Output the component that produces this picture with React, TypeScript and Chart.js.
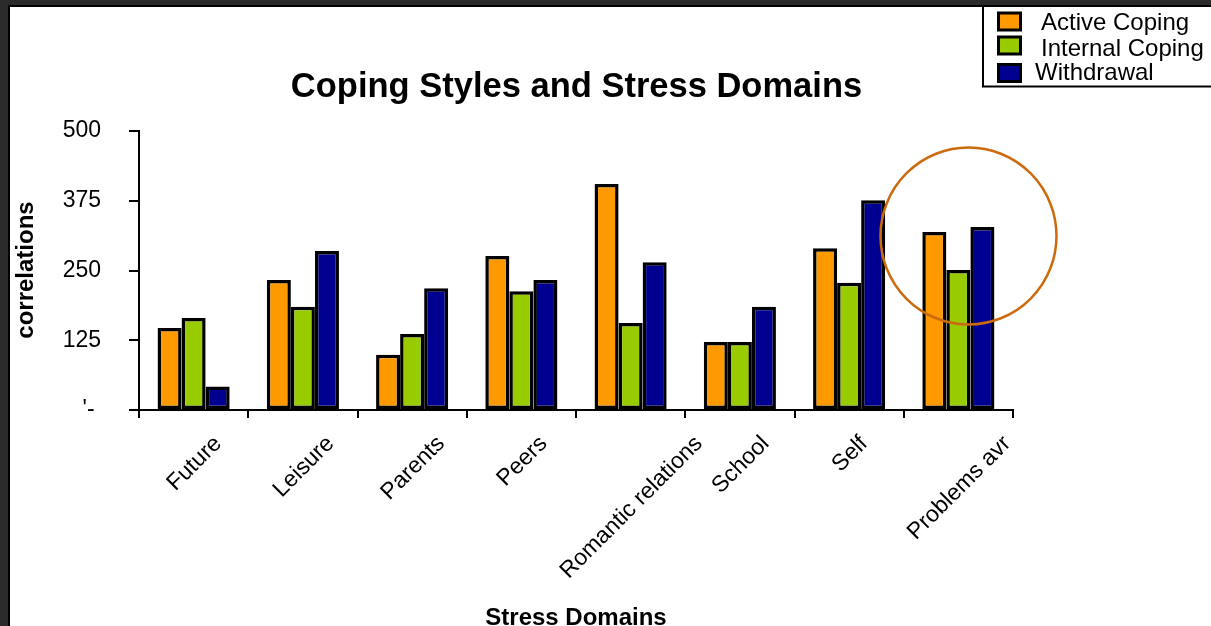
import React, { useEffect, useRef } from "react";
import { Chart, registerables } from "chart.js";

Chart.register(...registerables);

const categories = ["Future", "Leisure", "Parents", "Peers", "Romantic relations", "School", "Self", "Problems avr"];
const activeCoping = [147, 233, 99, 276, 405, 122, 290, 319];
const internalCoping = [165, 185, 136, 213, 156, 122, 228, 251];
const withdrawal = [42, 285, 218, 233, 265, 185, 376, 328];
const seriesNames = ["Active Coping", "Internal Coping", "Withdrawal"];
const seriesColors = ["#FF9900", "#99CC00", "#000090"];
const yTickValues = [0, 125, 250, 375, 500];
const yTickLabels = ["'- ", "125", "250", "375", "500"];
const chartTitle = "Coping Styles and Stress Domains";
const xAxisTitle = "Stress Domains";
const yAxisTitle = "correlations";

const W = 1211;
const H = 626;
const FONT = '"Liberation Sans", Arial, sans-serif';

export default function App() {
  const ref = useRef<HTMLCanvasElement>(null);

  useEffect(() => {
    const canvas = ref.current;
    if (!canvas) return;

    const decor = {
      id: "decor",
      beforeDraw(chart: any) {
        const ctx = chart.ctx;
        ctx.save();
        ctx.fillStyle = "#ffffff";
        ctx.fillRect(0, 0, W, H);
        ctx.fillStyle = "#2b2b2b";
        ctx.fillRect(0, 0, W, 5);
        ctx.fillRect(0, 0, 8, H);
        ctx.fillStyle = "#000000";
        ctx.fillRect(8, 5, W - 8, 2);
        ctx.fillRect(8, 5, 2, H - 5);
        ctx.restore();
      },
      afterDraw(chart: any) {
        const ctx = chart.ctx;
        const area = chart.chartArea;
        const xs = chart.scales.x;
        ctx.save();
        ctx.fillStyle = "#000";

        // Title
        ctx.font = `bold 34.5px ${FONT}`;
        ctx.textAlign = "center";
        ctx.textBaseline = "alphabetic";
        ctx.fillText(chartTitle, (area.left + area.right) / 2 + 0.5, 97);

        // X axis title
        ctx.font = `bold 24px ${FONT}`;
        ctx.fillText(xAxisTitle, (area.left + area.right) / 2, 625);

        // Y axis title
        ctx.save();
        ctx.translate(33, 270);
        ctx.rotate(-Math.PI / 2);
        ctx.textAlign = "center";
        ctx.textBaseline = "alphabetic";
        ctx.fillText(yAxisTitle, 0, 0);
        ctx.restore();

        // X tick labels (rotated, bounding box centered on category)
        const fs = 23;
        ctx.font = `${fs}px ${FONT}`;
        categories.forEach((c, i) => {
          const cx = xs.getPixelForValue(i);
          const w = ctx.measureText(c).width;
          const half = ((w + fs) * Math.SQRT1_2) / 2;
          ctx.save();
          ctx.translate(cx + 1, area.bottom + 22 + half);
          ctx.rotate(-Math.PI / 4);
          ctx.textAlign = "center";
          ctx.textBaseline = "middle";
          ctx.fillText(c, 0, 0);
          ctx.restore();
        });

        // Highlight circle
        ctx.beginPath();
        ctx.ellipse(968.5, 236, 88, 88.5, 0, 0, Math.PI * 2);
        ctx.strokeStyle = "#CC6A0E";
        ctx.lineWidth = 2.5;
        ctx.stroke();

        // Legend
        ctx.fillStyle = "#fff";
        ctx.fillRect(983, 6, W, 80);
        ctx.strokeStyle = "#000";
        ctx.lineWidth = 2;
        ctx.strokeRect(983, 6, W, 80.5);
        const rowsY = [21.5, 45.5, 73];
        const textX = [1041, 1041, 1035];
        const baseY = [30, 56, 80];
        ctx.font = `24px ${FONT}`;
        ctx.textAlign = "left";
        ctx.textBaseline = "alphabetic";
        chart.data.datasets.forEach((ds: any, i: number) => {
          const sy = rowsY[i] - 10;
          ctx.fillStyle = "#000";
          ctx.fillRect(997, sy, 25, 20);
          ctx.fillStyle = ds.backgroundColor;
          ctx.fillRect(1000, sy + 3, 19, 14);
          ctx.fillStyle = "#000";
          ctx.fillText(ds.label, textX[i], baseY[i]);
        });

        ctx.restore();
      },
    };

    const seriesData = [activeCoping, internalCoping, withdrawal];

    const chart = new Chart(canvas, {
      type: "bar",
      data: {
        labels: categories,
        datasets: seriesNames.map((name, i) => ({
          label: name,
          data: seriesData[i],
          backgroundColor: seriesColors[i],
          borderColor: "#000000",
          borderWidth: 3.5,
          borderSkipped: false,
          categoryPercentage: 0.66,
          barPercentage: 1,
        })),
      },
      options: {
        responsive: false,
        animation: false,
        devicePixelRatio: 1,
        layout: { padding: { left: 0, right: 198, top: 131, bottom: 0 } },
        plugins: {
          legend: { display: false },
          title: { display: false },
          tooltip: { enabled: false },
        },
        scales: {
          x: {
            offset: true,
            grid: {
              display: true,
              offset: true,
              drawOnChartArea: false,
              drawTicks: true,
              tickLength: 8,
              color: "#000",
              lineWidth: 2,
            },
            border: { display: true, color: "#000", width: 2 },
            ticks: { display: false },
            afterFit(s: any) {
              s.height = H - 410;
            },
          },
          y: {
            min: 0,
            max: 500,
            afterBuildTicks(s: any) {
              s.ticks = yTickValues.map((v) => ({ value: v }));
            },
            ticks: {
              callback: (v: any) => yTickLabels[yTickValues.indexOf(Number(v))],
              font: { size: 23, family: FONT },
              color: "#000",
              padding: 28,
            },
            grid: {
              drawOnChartArea: false,
              drawTicks: true,
              tickLength: 10,
              color: "#000",
              lineWidth: 2,
            },
            border: { display: true, color: "#000", width: 2 },
            afterFit(s: any) {
              s.width = 139;
            },
          },
        },
      },
      plugins: [decor],
    } as any);

    return () => chart.destroy();
  }, []);

  return (
    <div style={{ position: "absolute", left: 0, top: 0, width: W, height: H, overflow: "hidden" }}>
      <canvas ref={ref} width={W} height={H} style={{ display: "block", width: W, height: H }} />
    </div>
  );
}
